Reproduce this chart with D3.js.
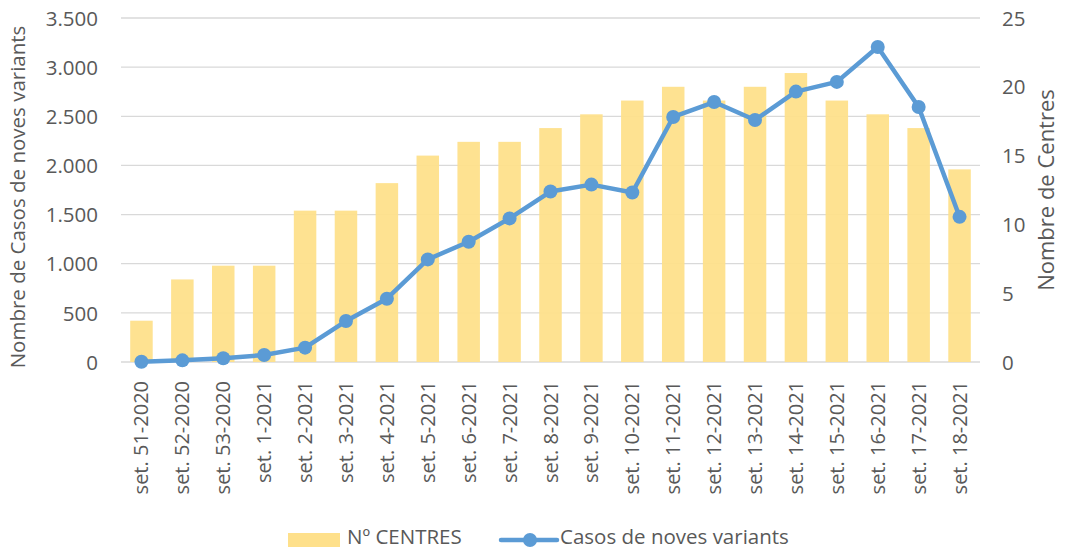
<!doctype html>
<html lang="ca">
<head>
<meta charset="UTF-8"/>
<title>Casos de noves variants</title>
<script src="https://cdnjs.cloudflare.com/ajax/libs/d3/7.8.5/d3.min.js"></script>
<style>
  body { margin: 0; background: #fff; }
  text { font-family: "Open Sans", "Liberation Sans", sans-serif; fill: #595959; }
</style>
</head>
<body>
<svg id="chart" width="1065" height="551"></svg>
<script>
const weeks = ["set. 51-2020","set. 52-2020","set. 53-2020","set. 1-2021","set. 2-2021","set. 3-2021",
  "set. 4-2021","set. 5-2021","set. 6-2021","set. 7-2021","set. 8-2021","set. 9-2021","set. 10-2021",
  "set. 11-2021","set. 12-2021","set. 13-2021","set. 14-2021","set. 15-2021","set. 16-2021",
  "set. 17-2021","set. 18-2021"];
const centres = [3,6,7,7,11,11,13,15,16,16,17,18,19,20,19,20,21,19,18,17,14];
const casos = [3,17,38,71,146,417,644,1044,1224,1461,1734,1805,1725,2493,2645,2462,2751,2850,3205,2594,1477];
const leftTicks = [0,500,1000,1500,2000,2500,3000,3500];
const rightTicks = [0,5,10,15,20,25];

const svg = d3.select("#chart");
const margin = {top: 18, right: 85, bottom: 189, left: 121};
const W = 1065, H = 551;
const x0 = margin.left, x1 = W - margin.right, y0 = H - margin.bottom, y1 = margin.top;

// 21 weeks
const x = d3.scaleBand().domain(weeks).range([x0, x1]).paddingInner(0.45).paddingOuter(0.225);
const yL = d3.scaleLinear().domain([0, 3500]).range([y0, y1]);
const yR = d3.scaleLinear().domain([0, 25]).range([y0, y1]);
const fmt = d => d3.format(",")(d).replace(/,/g, ".");

// gridlines
svg.append("g").selectAll("line").data(leftTicks).enter().append("line")
  .attr("x1", x0).attr("x2", x1)
  .attr("y1", d => yL(d)).attr("y2", d => yL(d))
  .attr("stroke", "#d9d9d9").attr("stroke-width", 1.3);

// bars
svg.append("g").selectAll("rect").data(centres).enter().append("rect")
  .attr("x", (d, i) => x(weeks[i]))
  .attr("y", d => yR(d))
  .attr("width", x.bandwidth())
  .attr("height", d => y0 - yR(d))
  .attr("fill", "#fee08b").attr("opacity", 0.95);

// line
const cx = i => x(weeks[i]) + x.bandwidth() / 2;
const line = d3.line().x((d, i) => cx(i)).y(d => yL(d));
svg.append("path").datum(casos).attr("d", line)
  .attr("fill", "none").attr("stroke", "#5b9bd5").attr("stroke-width", 4.5).attr("stroke-linejoin", "round");
svg.append("g").selectAll("circle").data(casos).enter().append("circle")
  .attr("cx", (d, i) => cx(i)).attr("cy", d => yL(d)).attr("r", 7)
  .attr("fill", "#5b9bd5");

// left axis
const gl = svg.append("g").attr("transform", `translate(${x0 - 23},0)`)
  .call(d3.axisLeft(yL).tickValues(leftTicks).tickFormat(fmt).tickSize(0).tickPadding(0));
gl.select(".domain").remove();
gl.selectAll("text").style("font-size", "20.5px").attr("dy", "0.35em");

// right axis
const gr = svg.append("g").attr("transform", `translate(${x1 + 22},0)`)
  .call(d3.axisRight(yR).tickValues(rightTicks).tickSize(0).tickPadding(0));
gr.select(".domain").remove();
gr.selectAll("text").style("font-size", "20.5px").attr("dy", "0.35em");

// x axis
const gx = svg.append("g").attr("transform", `translate(0,${y0 + 19})`)
  .call(d3.axisBottom(x).tickSize(0).tickPadding(0));
gx.select(".domain").remove();
gx.selectAll("text").style("font-size", "20px")
  .attr("transform", "rotate(-90)").attr("text-anchor", "end")
  .attr("x", 0).attr("y", 0).attr("dy", "0.35em");

// axis titles
svg.append("text").attr("transform", `translate(25,${(y0 + y1) / 2 + 7}) rotate(-90)`)
  .attr("text-anchor", "middle").style("font-size", "20.5px").text("Nombre de Casos de noves variants");
svg.append("text").attr("transform", `translate(1054,${(y0 + y1) / 2}) rotate(-90)`)
  .attr("text-anchor", "middle").style("font-size", "22px").text("Nombre de Centres");

// legend
const lg = svg.append("g");
lg.append("rect").attr("x", 288).attr("y", 533).attr("width", 52).attr("height", 14).attr("fill", "#fee08b");
lg.append("text").attr("x", 347).attr("y", 537).attr("dy", "0.35em").style("font-size", "20.5px").text("Nº CENTRES");
lg.append("line").attr("x1", 501).attr("x2", 557).attr("y1", 540).attr("y2", 540)
  .attr("stroke", "#5b9bd5").attr("stroke-width", 4.5).attr("stroke-linecap", "round");
lg.append("circle").attr("cx", 530).attr("cy", 540).attr("r", 7).attr("fill", "#5b9bd5");
lg.append("text").attr("x", 560).attr("y", 537).attr("dy", "0.35em").style("font-size", "20.5px").text("Casos de noves variants");
</script>
</body>
</html>
